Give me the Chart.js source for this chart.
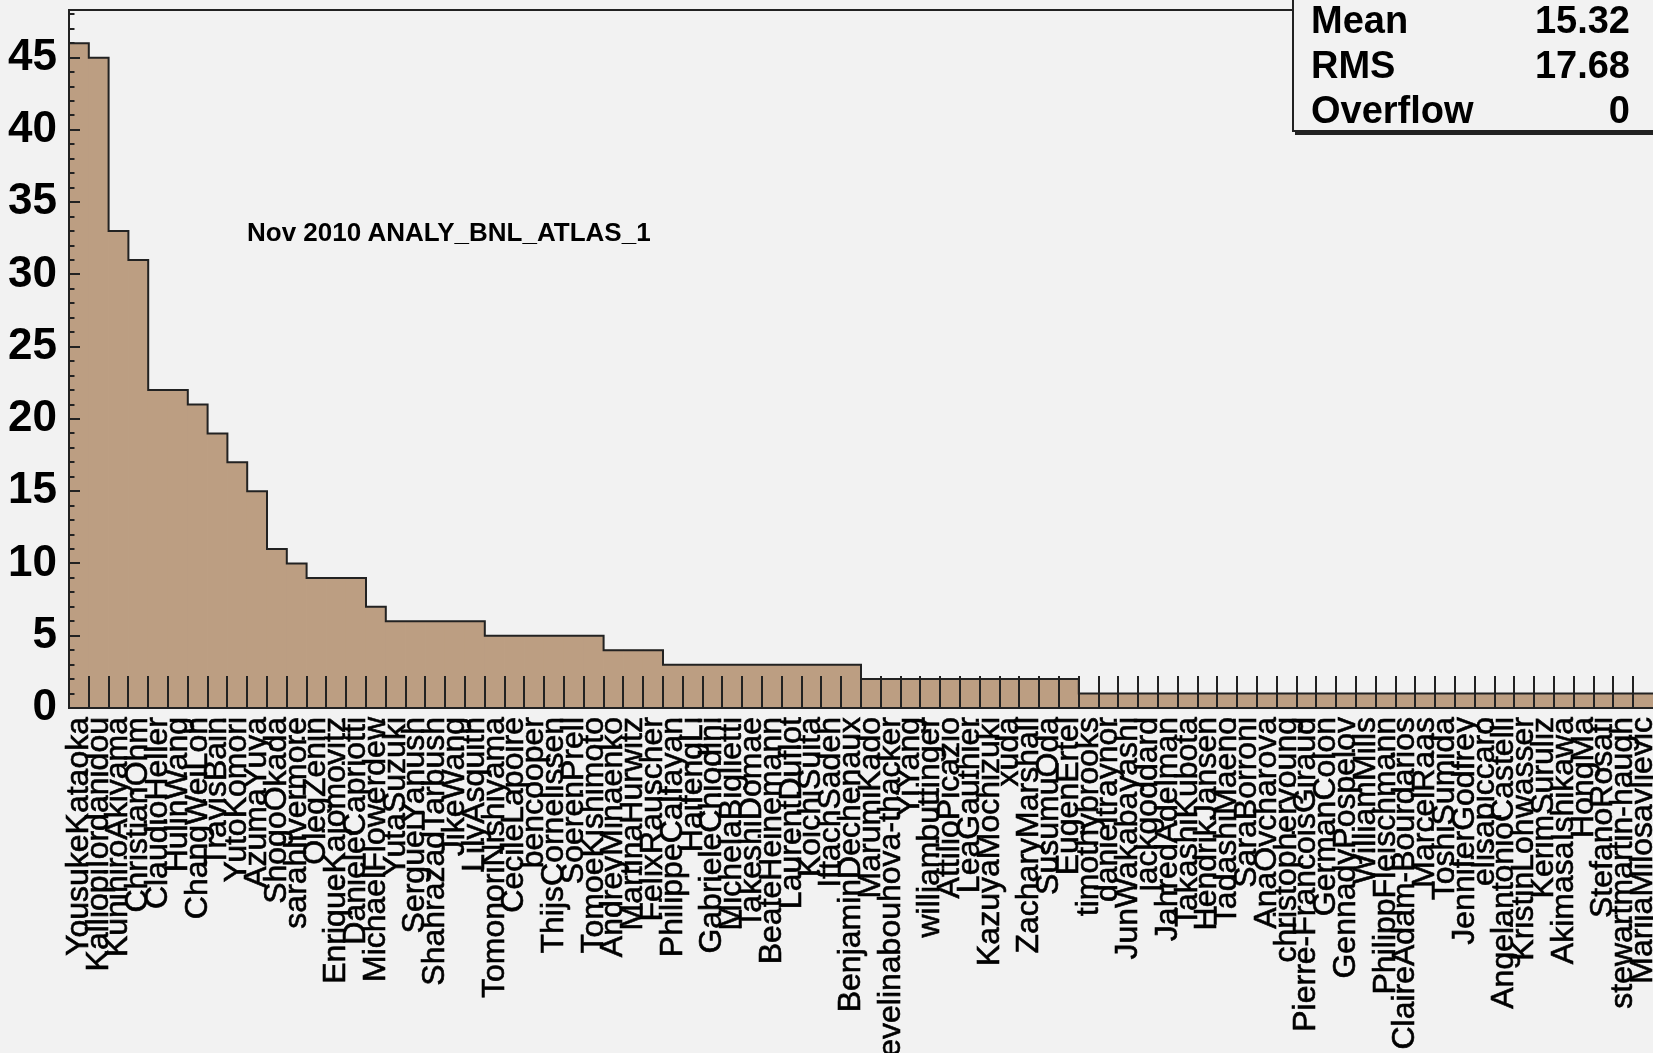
<html>
<head>
<meta http-equiv="Content-Type" content="text/html; charset=UTF-8"/>
<title>Nov 2010 ANALY_BNL_ATLAS_1</title>
<script src="https://cdn.jsdelivr.net/npm/chart.js@4.4.1/dist/chart.umd.min.js"></script>
<style type="text/css">
    body { margin: 0; background: #f2f2f2; }
    #holder { position: relative; width: 1653px; height: 1053px; overflow: hidden; }
    #note {
        position: absolute; left: 247px; top: 217px;
        font: bold 26px "Liberation Sans", Arial, sans-serif; color: #000;
    }
    #stats {
        position: absolute; left: 1292px; top: -2px; width: 370px; height: 130px;
        border: 2px solid #222; background: #f2f2f2; box-shadow: 3px 3px 0 #222;
        font: bold 38px "Liberation Sans", Arial, sans-serif; color: #000;
    }
    #stats div { position: absolute; left: 17px; width: 319px; height: 44px; line-height: 44px; }
    #stats span { float: right; }
</style>
</head>
<body>
<div id="holder">
    <canvas id="hist" width="1653" height="1053"></canvas>
    <div id="note">Nov 2010 ANALY_BNL_ATLAS_1</div>
    <div id="stats">
        <div style="top:-2px">Mean<span>15.32</span></div>
        <div style="top:43px">RMS<span>17.68</span></div>
        <div style="top:88px">Overflow<span>0</span></div>
    </div>
</div>
<script type="text/javascript">
    var users = [
        "YousukeKataoka", "KalliopiIordanidou", "KunihiroAkiyama", "ChristianOhm", "ClaudioHeller",
        "HulinWang", "ChangWeiLoh", "TravisBain", "YutoKomori", "AzumaYuya",
        "ShogoOkada", "sarahlivermore", "OlegZenin", "EnriqueKajomovitz", "DanieleCapriotti",
        "MichaelFlowerdew", "YutaSuzuki", "SergueiYanush", "ShahrazadTarbush", "JikeWang",
        "LilyAsquith", "TomonoriNishiyama", "CecileLapoire", "bencooper", "ThijsCornelissen",
        "SoerenPrell", "TomoeKishimoto", "AndreyMinaenko", "MartinaHurwitz", "FelixRauscher",
        "PhilippeCalfayan", "HaifengLi", "GabrieleChiodini", "MichelaBiglietti", "TakeshiDomae",
        "BeateHeinemann", "LaurentDuflot", "KoichiSuita", "IftachSadeh", "BenjaminDechenaux",
        "MarumiKado", "evelinabouhova-thacker", "YiYang", "williambuttinger", "AttilioPicazio",
        "LeaGauthier", "KazuyaMochizuki", "xuda", "ZacharyMarshall", "SusumuOda",
        "EugenErtel", "timothybrooks", "danieltraynor", "JunWakabayashi", "jackgoddard",
        "JahredAdelman", "TakashiKubota", "HendrikJansen", "TadashiMaeno", "SaraBorroni",
        "AnaOvcharova", "christopheryoung", "Pierre-FrancoisGiraud", "GermanColon", "GennadyPospelov",
        "WilliamMills", "PhilippFleischmann", "ClaireAdam-Bourdarios", "MarcelRaas", "ToshiSumida",
        "JenniferGodfrey", "elisapiccaro", "AngelantonioCastelli", "KristinLohwasser", "KerimSuruliz",
        "AkimasaIshikawa", "HongMa", "StefanoRosati", "stewartmartin-haugh", "MarijaMilosavljevic"
    ];
    var jobs = [
        46, 45, 33, 31, 22, 22, 21, 19, 17, 15,
        11, 10, 9, 9, 9, 7, 6, 6, 6, 6,
        6, 5, 5, 5, 5, 5, 5, 4, 4, 4,
        3, 3, 3, 3, 3, 3, 3, 3, 3, 3,
        2, 2, 2, 2, 2, 2, 2, 2, 2, 2,
        2, 1, 1, 1, 1, 1, 1, 1, 1, 1,
        1, 1, 1, 1, 1, 1, 1, 1, 1, 1,
        1, 1, 1, 1, 1, 1, 1, 1, 1, 1
    ];
    var yTicks = [0, 5, 10, 15, 20, 25, 30, 35, 40, 45];
    var yMax = 48.3;

    var fillColor = "rgb(188,158,130)";
    var lineColor = "#222";
    var statsLeft = 1293;

    // outline of the histogram, axis frame and ROOT style inner ticks
    var histFrame = {
        id: "histFrame",
        afterDatasetsDraw: function (chart) {
            var ctx = chart.ctx;
            var area = chart.chartArea;
            var ys = chart.scales.y;
            var bars = chart.getDatasetMeta(0).data;
            ctx.save();
            ctx.strokeStyle = lineColor;
            ctx.lineWidth = 2;

            // step outline
            ctx.beginPath();
            var first = bars[0];
            ctx.moveTo(first.x - first.width / 2, area.bottom);
            for (var i = 0; i < bars.length; i++) {
                var b = bars[i];
                ctx.lineTo(b.x - b.width / 2, b.y);
                ctx.lineTo(b.x + b.width / 2, b.y);
            }
            ctx.stroke();

            // x ticks at bin edges
            ctx.beginPath();
            for (var i = 1; i < bars.length; i++) {
                var ex = Math.round(bars[i].x - bars[i].width / 2);
                ctx.moveTo(ex, area.bottom);
                ctx.lineTo(ex, area.bottom - 32);
            }
            ctx.stroke();

            // y ticks, major every 5 and minor every 1
            ctx.beginPath();
            for (var v = 1; v <= 48; v++) {
                var py = Math.round(ys.getPixelForValue(v));
                ctx.moveTo(area.left, py);
                ctx.lineTo(area.left + (v % 5 == 0 ? 11 : 5.5), py);
            }
            ctx.stroke();

            // frame
            ctx.beginPath();
            ctx.moveTo(statsLeft, area.top);
            ctx.lineTo(area.left, area.top);
            ctx.lineTo(area.left, area.bottom);
            ctx.lineTo(area.right, area.bottom);
            ctx.stroke();
            ctx.restore();
        }
    };

    function noPad(s) {
        s.paddingTop = 0;
        s.paddingBottom = 0;
        s.paddingLeft = 0;
        s.paddingRight = 0;
    }

    var ctx = document.getElementById("hist").getContext("2d");
    var myHist = new Chart(ctx, {
        type: "bar",
        data: {
            labels: users,
            datasets: [{
                data: jobs,
                backgroundColor: fillColor,
                borderWidth: 0,
                barPercentage: 1.0,
                categoryPercentage: 1.0
            }]
        },
        options: {
            responsive: false,
            animation: false,
            devicePixelRatio: 1,
            layout: { padding: { top: 10, right: 0, left: 0, bottom: 0 } },
            plugins: { legend: { display: false }, tooltip: { enabled: false } },
            scales: {
                x: {
                    grid: { display: false, drawTicks: false },
                    border: { display: false },
                    afterFit: function (s) { s.height = 345; noPad(s); },
                    ticks: {
                        autoSkip: false,
                        maxRotation: 90,
                        minRotation: 90,
                        padding: 9,
                        color: "#000",
                        textStrokeColor: "#000",
                        textStrokeWidth: 0.6,
                        font: { family: "'Liberation Sans', Arial, sans-serif", size: 32 }
                    }
                },
                y: {
                    min: 0,
                    max: yMax,
                    grid: { display: false, drawTicks: false },
                    border: { display: false },
                    afterFit: function (s) { s.width = 69; noPad(s); },
                    afterBuildTicks: function (s) {
                        s.ticks = yTicks.map(function (v) { return { value: v }; });
                    },
                    ticks: {
                        padding: 12,
                        color: "#000",
                        font: { family: "'Liberation Sans', Arial, sans-serif", size: 44, weight: "bold" }
                    }
                }
            }
        },
        plugins: [histFrame]
    });
</script>
</body>
</html>
